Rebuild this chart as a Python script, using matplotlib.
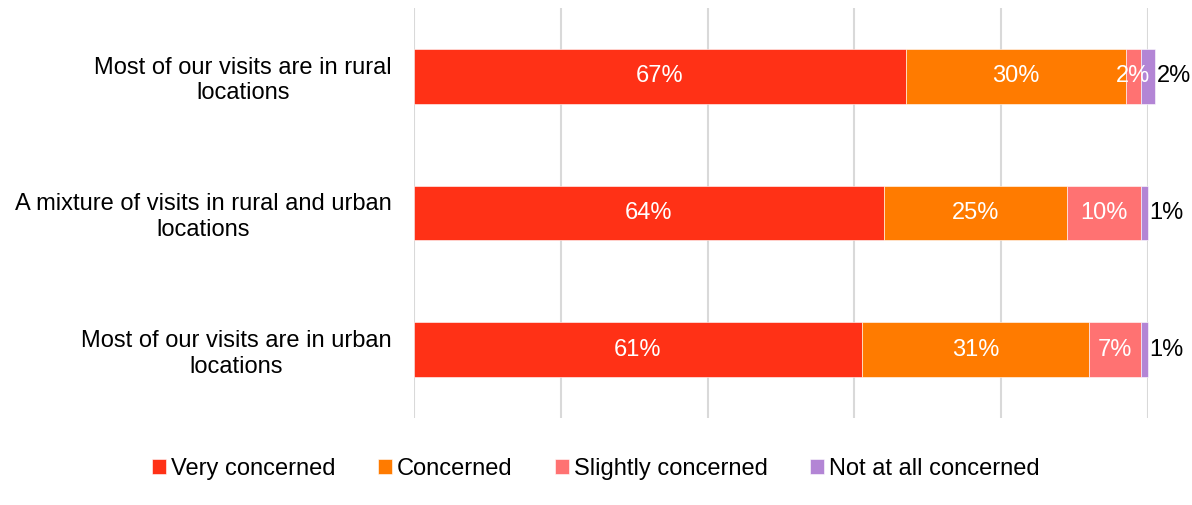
import numpy as np
import matplotlib.pyplot as plt

plt.rcParams['font.family'] = ['Liberation Sans', 'DejaVu Sans']

categories = [
    "Most of our visits are in rural\nlocations",
    "A mixture of visits in rural and urban\nlocations",
    "Most of our visits are in urban\nlocations",
]
series_names = ["Very concerned", "Concerned", "Slightly concerned", "Not at all concerned"]
very = [67, 64, 61]
concerned = [30, 25, 31]
slightly = [2, 10, 7]
not_at_all = [2, 1, 1]

colors = ["#FF3116", "#FF7B00", "#FF7272", "#B385D5"]
FS = 17

fig = plt.figure(figsize=(11.92, 5.05), dpi=100)
ax = fig.add_axes([414 / 1192, 1 - 418 / 505, (1148 - 414) / 1192, (418 - 8) / 505])

y = np.arange(len(categories))
left = np.zeros(len(categories))
series = [very, concerned, slightly, not_at_all]
for i, (name, vals, col) in enumerate(zip(series_names, series, colors)):
    vals = np.array(vals, dtype=float)
    ax.barh(y, vals, left=left, height=0.4, color=col, label=name,
            edgecolor="white", linewidth=0.4, zorder=2, clip_on=False)
    for yi, l, v in zip(y, left, vals):
        if i < 3:
            ax.text(l + v / 2, yi, f"{v:.0f}%", ha="center", va="center",
                    color="white", fontsize=FS, zorder=3)
        else:
            ax.text(l + v + 0.2, yi, f"{v:.0f}%", ha="left", va="center",
                    color="black", fontsize=FS, zorder=3)
    left += vals

ax.set_xlim(0, 100)
ax.set_ylim(2.5, -0.5)
ax.set_xticks(np.arange(0, 101, 20))
ax.set_xticklabels([])
ax.tick_params(axis="x", length=0)
ax.tick_params(axis="y", length=0, pad=16)
ax.set_yticks(y)
ax.set_yticklabels(categories, fontsize=FS, ha="right", multialignment="center",
                   linespacing=1.2)
ax.grid(axis="x", color="#D9D9D9", linewidth=1.5, zorder=0)
for s in ax.spines.values():
    s.set_visible(False)

ax.legend(loc="center", bbox_to_anchor=(596 / 1192, 1 - 469 / 505), bbox_transform=fig.transFigure,
          ncol=4, frameon=False, fontsize=FS, handlelength=0.6, handleheight=0.6,
          handletextpad=0.2, columnspacing=1.8)

fig.savefig("out.png", dpi=100)
